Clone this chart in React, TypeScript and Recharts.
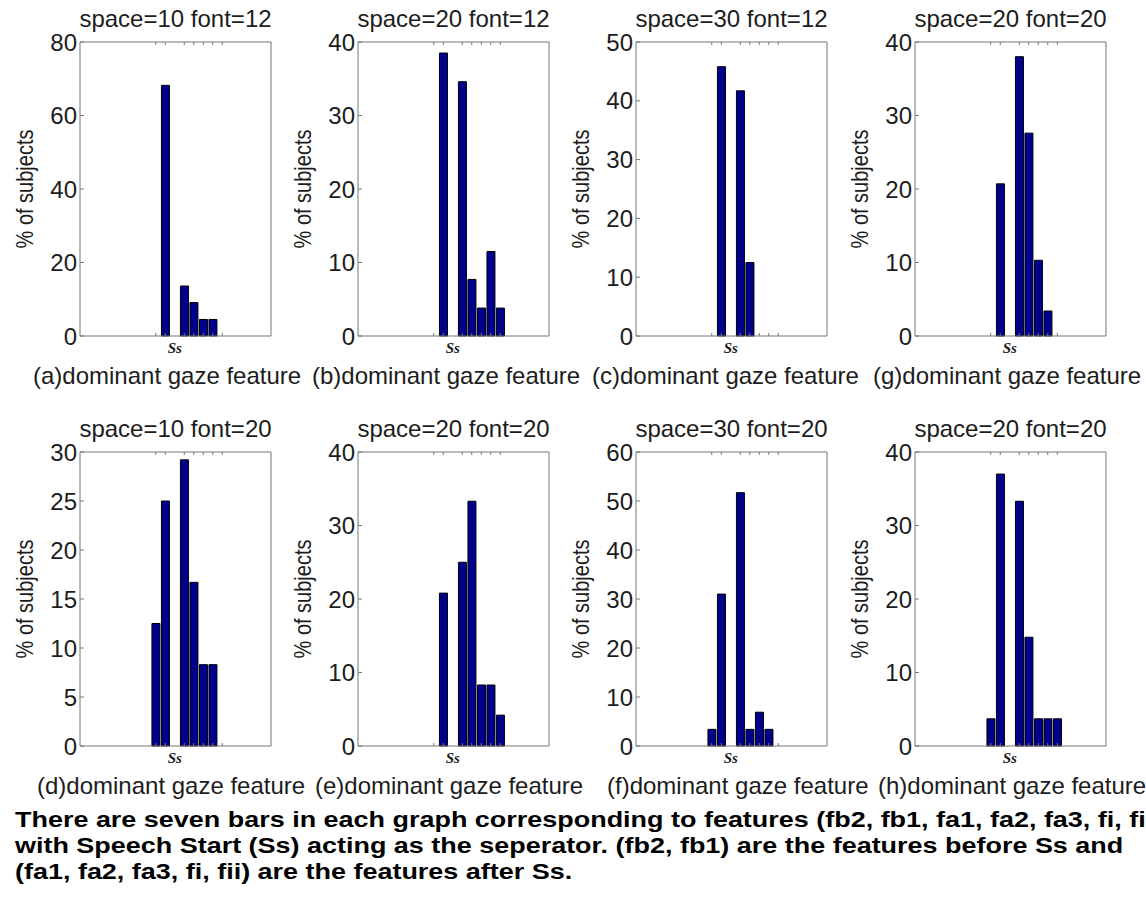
import { BarChart, Bar, XAxis, YAxis } from "recharts";

// seven features, with the Speech Start slot (Ss) left empty between fb1 and fa1
const features = ["fb2", "fb1", "Ss", "fa1", "fa2", "fa3", "fi", "fii"];

// % of subjects per feature
const valuesA = [0, 68.2, null, 13.6, 9.1, 4.5, 4.5, 0];
const valuesB = [0, 38.5, null, 34.6, 7.7, 3.8, 11.5, 3.8];
const valuesC = [0, 45.8, null, 41.7, 12.5, 0, 0, 0];
const valuesG = [0, 20.7, null, 38.0, 27.6, 10.3, 3.4, 0];
const valuesD = [12.5, 25.0, null, 29.2, 16.7, 8.3, 8.3, 0];
const valuesE = [0, 20.8, null, 25.0, 33.3, 8.3, 8.3, 4.2];
const valuesF = [3.4, 31.0, null, 51.7, 3.4, 6.9, 3.4, 0];
const valuesH = [3.7, 37.0, null, 33.3, 14.8, 3.7, 3.7, 3.7];

const ticks80 = [0, 20, 40, 60, 80];
const ticks40 = [0, 10, 20, 30, 40];
const ticks50 = [0, 10, 20, 30, 40, 50];
const ticks30 = [0, 5, 10, 15, 20, 25, 30];
const ticks60 = [0, 10, 20, 30, 40, 50, 60];

const titles = [
  "space=10 font=12",
  "space=20 font=12",
  "space=30 font=12",
  "space=20 font=20",
  "space=10 font=20",
  "space=20 font=20",
  "space=30 font=20",
  "space=20 font=20",
];

const captions = [
  "(a)dominant gaze feature",
  "(b)dominant gaze feature",
  "(c)dominant gaze feature",
  "(g)dominant gaze feature",
  "(d)dominant gaze feature",
  "(e)dominant gaze feature",
  "(f)dominant gaze feature",
  "(h)dominant gaze feature",
];

const panelValues = [valuesA, valuesB, valuesC, valuesG, valuesD, valuesE, valuesF, valuesH];
const panelTicks = [ticks80, ticks40, ticks50, ticks40, ticks30, ticks40, ticks60, ticks40];

const noteLines = [
  "There are seven bars in each graph corresponding to features (fb2, fb1, fa1, fa2, fa3, fi, fii)",
  "with Speech Start (Ss) acting as the seperator. (fb2, fb1) are the features before Ss and",
  "(fa1, fa2, fa3, fi, fii) are the features after Ss.",
];

// layout
const COL_LEFT = [5, 283, 561, 840];
const ROW_TOP = [0, 410];
const CAPTION_X = [28, 29, 31, 33, 32, 32, 46, 38];

const W = 280;
const H = 400;
const YW = 75;
// top/bottom x axes and the right y axis take 1px each
const M = { top: 41, right: 13, bottom: 63, left: 0 };
const PLOT_TOP = M.top + 1;
const PLOT_W = W - YW - M.right - 1;
const PLOT_H = H - PLOT_TOP - M.bottom - 1;

const FONT = "'Liberation Sans', Arial, sans-serif";
const INK = "#1c1c1c";
const BOX = "#777777";
const BAR_FILL = "#00008c";

function Panel({ idx }: { idx: number }) {
  const values = panelValues[idx];
  const ticks = panelTicks[idx];
  const data = features.map((name, i) => ({ name, value: values[i] }));
  const yMax = ticks[ticks.length - 1];
  const left = COL_LEFT[idx % 4];
  const top = ROW_TOP[Math.floor(idx / 4)];
  const plotBottom = PLOT_TOP + PLOT_H;
  const midY = PLOT_TOP + PLOT_H / 2;

  const bottomTick = (p: any) =>
    p.payload.value === "Ss" ? (
      <text
        x={p.x}
        y={plotBottom + 17}
        textAnchor="middle"
        fontFamily="'Liberation Serif', serif"
        fontStyle="italic"
        fontWeight="bold"
        fontSize={15}
        fill={INK}
      >
        Ss
      </text>
    ) : (
      <line x1={p.x} x2={p.x} y1={plotBottom} y2={plotBottom - 3} stroke={BOX} />
    );

  const topTick = (p: any) =>
    p.payload.value === "Ss" ? <g /> : <line x1={p.x} x2={p.x} y1={PLOT_TOP} y2={PLOT_TOP + 3} stroke={BOX} />;

  const titleLabel = () => (
    <text x={YW + PLOT_W / 2} y={PLOT_TOP - 15} textAnchor="middle" fontFamily={FONT} fontSize={24} fill={INK}>
      {titles[idx]}
    </text>
  );

  const captionLabel = () => (
    <text x={CAPTION_X[idx]} y={plotBottom + 48} textAnchor="start" fontFamily={FONT} fontSize={24} fill={INK}>
      {captions[idx]}
    </text>
  );

  const yLabel = () => (
    <text
      x={0}
      y={0}
      transform={`translate(20 ${midY}) rotate(-90) scale(1 1.2)`}
      textAnchor="middle"
      dominantBaseline="central"
      fontFamily={FONT}
      fontSize={20}
      fill={INK}
    >
      % of subjects
    </text>
  );

  return (
    <div style={{ position: "absolute", left, top, width: W, height: H }}>
      <BarChart width={W} height={H} data={data} margin={M} barCategoryGap="10%">
        <XAxis
          xAxisId="bottom"
          dataKey="name"
          orientation="bottom"
          height={1}
          padding={{ left: 71, right: 44 }}
          interval={0}
          axisLine={{ stroke: BOX }}
          tickLine={false}
          tickSize={0}
          tickMargin={0}
          tick={bottomTick}
          label={captionLabel}
        />
        <XAxis
          xAxisId="top"
          dataKey="name"
          orientation="top"
          height={1}
          padding={{ left: 71, right: 44 }}
          interval={0}
          axisLine={{ stroke: BOX }}
          tickLine={false}
          tickSize={0}
          tickMargin={0}
          tick={topTick}
          label={titleLabel}
        />
        <YAxis
          yAxisId="left"
          width={YW}
          domain={[0, yMax]}
          ticks={ticks}
          interval={0}
          axisLine={{ stroke: BOX }}
          tickLine={{ stroke: BOX }}
          tickSize={-4}
          tickMargin={7}
          tick={{ fill: INK, fontSize: 24, fontFamily: FONT }}
          label={yLabel}
        />
        <YAxis
          yAxisId="right"
          orientation="right"
          width={1}
          domain={[0, yMax]}
          ticks={ticks}
          interval={0}
          axisLine={{ stroke: BOX }}
          tickLine={{ stroke: BOX }}
          tickSize={-4}
          tick={false}
        />
        <Bar
          xAxisId="bottom"
          yAxisId="left"
          dataKey="value"
          fill={BAR_FILL}
          stroke="#000"
          strokeWidth={1}
          isAnimationActive={false}
        />
      </BarChart>
    </div>
  );
}

export default function App() {
  return (
    <div
      style={{
        position: "absolute",
        left: 0,
        top: 0,
        width: 1146,
        height: 901,
        overflow: "hidden",
        background: "#fff",
      }}
    >
      <style>{`.recharts-surface, .recharts-wrapper { overflow: visible !important; }`}</style>
      {titles.map((_, i) => (
        <Panel key={i} idx={i} />
      ))}
      <div
        style={{
          position: "absolute",
          left: 15,
          top: 807,
          fontFamily: FONT,
          fontWeight: "bold",
          fontSize: 22,
          lineHeight: "26px",
          color: "#000",
          whiteSpace: "nowrap",
          transform: "scaleX(1.225)",
          transformOrigin: "0 0",
        }}
      >
        {noteLines.map((line, i) => (
          <div key={i}>{line}</div>
        ))}
      </div>
    </div>
  );
}
